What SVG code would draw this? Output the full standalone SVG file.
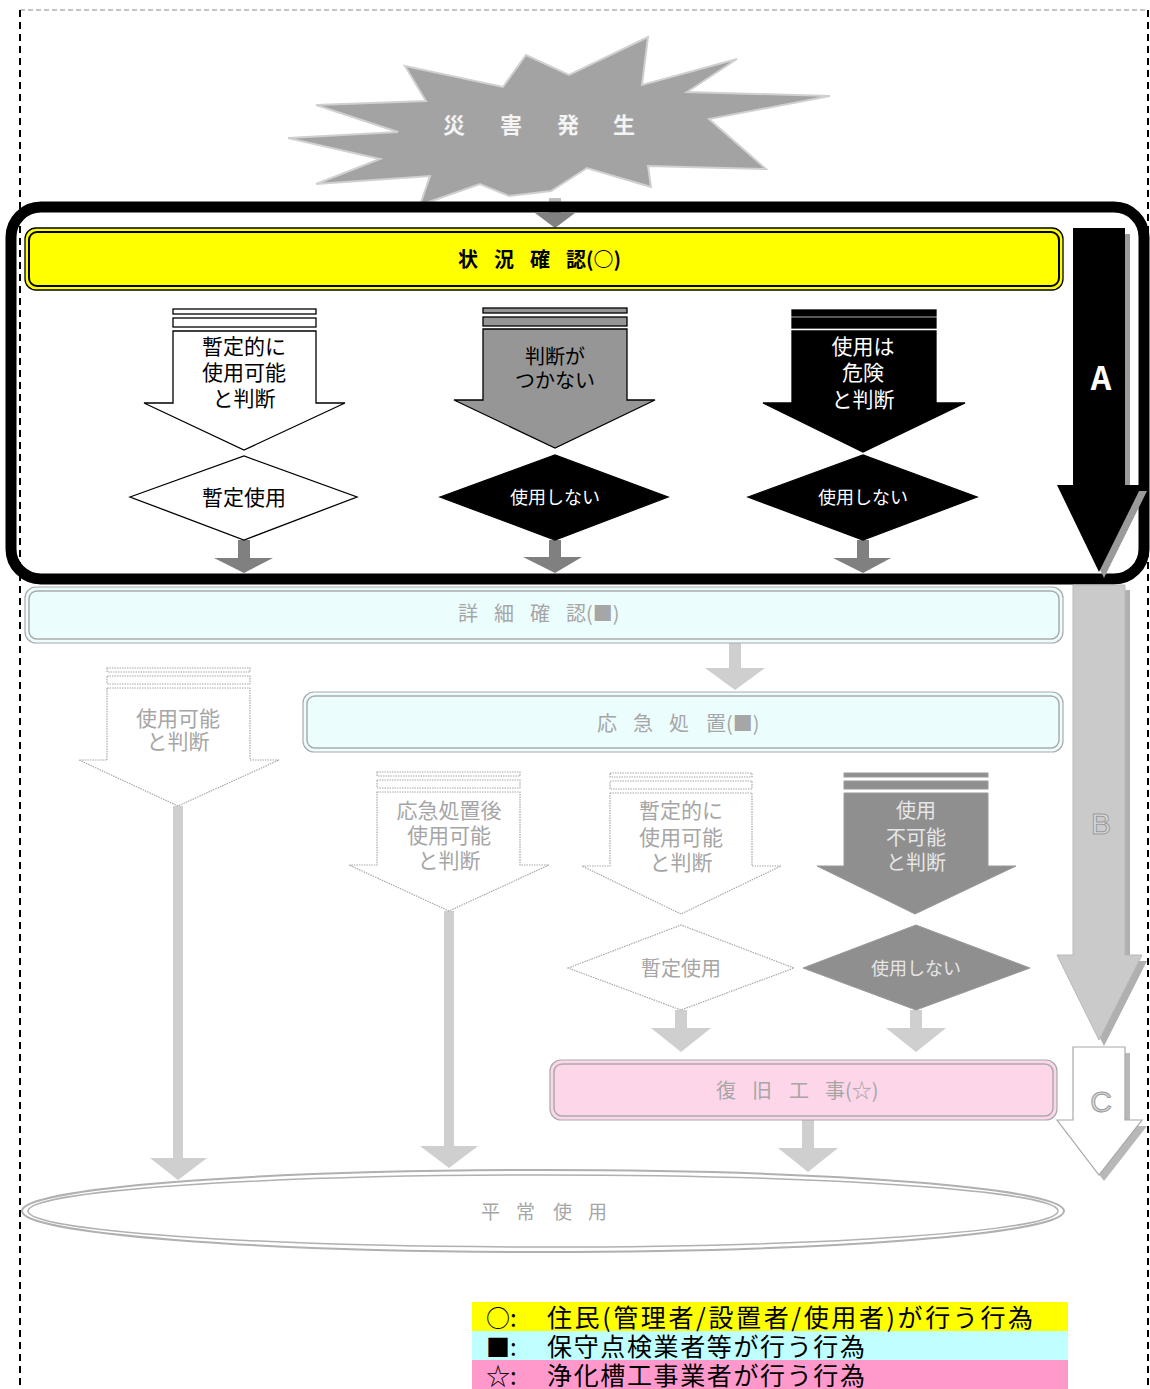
<svg xmlns="http://www.w3.org/2000/svg" width="1150" height="1389" viewBox="0 0 1150 1389">
<style>
.t{font-family:"Noto Sans CJK JP","Noto Sans",sans-serif;}
.w{fill:#fff;stroke:#000;stroke-width:1.3}
.g{fill:#969696;stroke:#000;stroke-width:1.3}
.k{fill:#000;stroke:#000;stroke-width:1.3}
.fw{fill:#fff;stroke:#a8a8a8;stroke-width:1.2;stroke-dasharray:1.5 1}
.fd{fill:#8f8f8f;stroke:#9a9a9a;stroke-width:1}
.ck{fill:#808080}
.cf{fill:#cfcfcf}
.ft{fill:#a6a6a6}
</style>
<rect width="1150" height="1389" fill="#fff"/>
<g id="border">
<line x1="20" y1="10" x2="1148" y2="10" stroke="#888" stroke-width="1" stroke-dasharray="5 3"/>
<line x1="20" y1="10" x2="20" y2="1389" stroke="#000" stroke-width="2" stroke-dasharray="7 5"/>
<line x1="1148" y1="10" x2="1148" y2="1389" stroke="#000" stroke-width="2" stroke-dasharray="7 5"/>
</g>
<g id="disaster">
<polygon points="405,66 503,87 526,55 569,75 648,37 642,85 737,59 687,92 830,96 709,119 766,169 648,166 651,187 587,168 551,191 509,196 480,184 420,205 430,176 316,184 380,159 288,138 398,132 316,105 426,101" fill="#a3a3a3" stroke="#d0d0d0" stroke-width="2"/>
<text class="t" x="443 500 557 613" y="133" font-size="22" font-weight="bold" fill="#f4f4f4">災害発生</text>
</g>
<g id="connectors">
<rect x="549" y="198" width="12" height="16" fill="#c0c0c0"/>
<polygon points="535,213 575,213 555,228" class="ck"/>
<rect x="238" y="540" width="12" height="19" class="ck"/>
<polygon points="214,558 273,558 244,573" class="ck"/>
<rect x="549" y="540" width="12" height="18" class="ck"/>
<polygon points="523,557 582,557 555,573" class="ck"/>
<rect x="857" y="540" width="12" height="19" class="ck"/>
<polygon points="833,558 891,558 863,573" class="ck"/>
<rect x="729" y="642" width="12" height="27" class="cf"/>
<polygon points="705,668 765,668 735,690" class="cf"/>
<rect x="173" y="806" width="10" height="353" class="cf"/>
<polygon points="150,1158 207,1158 178,1180" class="cf"/>
<rect x="444" y="911" width="10" height="236" class="cf"/>
<polygon points="420,1146 478,1146 449,1168" class="cf"/>
<rect x="675" y="1010" width="12" height="19" class="cf"/>
<polygon points="651,1028 711,1028 681,1052" class="cf"/>
<rect x="910" y="1010" width="12" height="19" class="cf"/>
<polygon points="886,1028 946,1028 916,1052" class="cf"/>
<rect x="802" y="1120" width="12" height="29" class="cf"/>
<polygon points="778,1148 838,1148 808,1172" class="cf"/>
</g>
<g id="frame-a">
<rect x="11" y="207" width="1133" height="372" rx="30" fill="none" stroke="#000" stroke-width="11"/>
</g>
<g id="status-check">
<rect x="25" y="228" width="1038" height="62" rx="11" fill="#ffff00" stroke="#000" stroke-width="1.3"/>
<rect x="29" y="232" width="1030" height="54" rx="8" fill="#ffff00" stroke="#000" stroke-width="2"/>
<text class="t" x="458 494 530 566" y="267" font-size="20" font-weight="bold" fill="#000">状況確認(○)</text>
</g>
<g id="judge-temp">
<rect x="173" y="309" width="143" height="5" class="w"/>
<rect x="173" y="318" width="143" height="9" class="w"/>
<polygon points="173,331 316,331 316,403 345,403 244,450 144,403 173,403" class="w"/>
<text class="t" x="244" y="354" font-size="21" text-anchor="middle" fill="#000">暫定的に</text>
<text class="t" x="244" y="380" font-size="21" text-anchor="middle" fill="#000">使用可能</text>
<text class="t" x="244" y="406" font-size="21" text-anchor="middle" fill="#000">と判断</text>
</g>
<g id="temp-use">
<polygon points="130,497 244,456 357,497 244,540" class="w"/>
<text class="t" x="244" y="505" font-size="21" text-anchor="middle" fill="#000">暫定使用</text>
</g>
<g id="judge-unknown">
<rect x="483" y="308" width="144" height="5" class="g"/>
<rect x="483" y="317" width="144" height="9" class="g"/>
<polygon points="483,329 627,329 627,400 655,400 555,448 454,400 483,400" class="g"/>
<text class="t" x="555" y="364" font-size="20" text-anchor="middle" fill="#000">判断が</text>
<text class="t" x="555" y="388" font-size="20" text-anchor="middle" fill="#000">つかない</text>
</g>
<g id="no-use-1">
<polygon points="440,497 555,455 668,497 555,540" class="k"/>
<text class="t" x="555" y="504" font-size="18" text-anchor="middle" fill="#fff">使用しない</text>
</g>
<g id="judge-danger">
<rect x="792" y="310" width="144" height="6" class="k"/>
<rect x="792" y="318" width="144" height="10" class="k"/>
<polygon points="792,331 936,331 936,403 965,403 863,452 763,403 792,403" class="k"/>
<text class="t" x="863" y="354" font-size="21" text-anchor="middle" fill="#fff">使用は</text>
<text class="t" x="863" y="380" font-size="21" text-anchor="middle" fill="#fff">危険</text>
<text class="t" x="863" y="407" font-size="21" text-anchor="middle" fill="#fff">と判断</text>
</g>
<g id="no-use-2">
<polygon points="748,497 863,455 977,497 863,540" class="k"/>
<text class="t" x="863" y="504" font-size="18" text-anchor="middle" fill="#fff">使用しない</text>
</g>
<g id="arrow-a">
<polygon points="1078,234 1130,234 1130,491 1147,491 1104,578 1062,491 1078,491" fill="#9a9a9a"/>
<polygon points="1073,228 1125,228 1125,485 1142,485 1099,572 1057,485 1073,485" fill="#000"/>
<text class="t" x="1101" y="390" font-size="32" font-weight="bold" text-anchor="middle" fill="#fff" font-family="Liberation Sans, sans-serif">A</text>
</g>
<g id="arrow-b">
<polygon points="1078,590 1130,590 1130,961 1147,961 1104,1046 1062,961 1078,961" fill="#b0b0b0"/>
<polygon points="1073,585 1125,585 1125,955 1142,955 1099,1040 1057,955 1073,955" fill="#cacaca" stroke="#b8b8b8"/>
<text x="1101" y="834" font-size="30" text-anchor="middle" fill="#ddd" stroke="#9a9a9a" stroke-width="1" font-family="Liberation Sans, sans-serif">B</text>
</g>
<g id="detail-check">
<rect x="25" y="587" width="1038" height="56" rx="11" fill="#ecfdfd" stroke="#aaa" stroke-width="1.2"/>
<rect x="29" y="591" width="1030" height="48" rx="8" fill="#ecfdfd" stroke="#aaa" stroke-width="1.5"/>
<text class="t ft" x="458 494 530 566" y="621" font-size="20">詳細確認(■)</text>
</g>
<g id="emergency">
<rect x="303" y="692" width="760" height="60" rx="11" fill="#ecfdfd" stroke="#aaa" stroke-width="1.2"/>
<rect x="307" y="696" width="752" height="52" rx="8" fill="#ecfdfd" stroke="#aaa" stroke-width="1.5"/>
<text class="t ft" x="597 633 669 706" y="731" font-size="20">応急処置(■)</text>
</g>
<g id="judge-usable">
<rect x="107" y="668" width="143" height="4" class="fw"/>
<rect x="107" y="676" width="143" height="8" class="fw"/>
<polygon points="107,688 250,688 250,760 279,760 178,806 79,760 107,760" class="fw"/>
<text class="t ft" x="178" y="726" font-size="21" text-anchor="middle">使用可能</text>
<text class="t ft" x="178" y="749" font-size="21" text-anchor="middle">と判断</text>
</g>
<g id="judge-after">
<rect x="377" y="772" width="143" height="4" class="fw"/>
<rect x="377" y="780" width="143" height="8" class="fw"/>
<polygon points="377,792 520,792 520,865 549,865 449,911 349,865 377,865" class="fw"/>
<text class="t ft" x="449" y="818" font-size="21" text-anchor="middle">応急処置後</text>
<text class="t ft" x="449" y="843" font-size="21" text-anchor="middle">使用可能</text>
<text class="t ft" x="449" y="868" font-size="21" text-anchor="middle">と判断</text>
</g>
<g id="judge-temp-2">
<rect x="610" y="773" width="142" height="4" class="fw"/>
<rect x="610" y="781" width="142" height="8" class="fw"/>
<polygon points="610,793 752,793 752,866 781,866 681,914 582,866 610,866" class="fw"/>
<text class="t ft" x="681" y="818" font-size="21" text-anchor="middle">暫定的に</text>
<text class="t ft" x="681" y="845" font-size="21" text-anchor="middle">使用可能</text>
<text class="t ft" x="681" y="870" font-size="21" text-anchor="middle">と判断</text>
</g>
<g id="temp-use-2">
<polygon points="568,968 681,925 794,968 681,1010" class="fw"/>
<text class="t ft" x="681" y="976" font-size="20" text-anchor="middle">暫定使用</text>
</g>
<g id="judge-unusable">
<rect x="844" y="773" width="144" height="4" class="fd"/>
<rect x="844" y="781" width="144" height="8" class="fd"/>
<polygon points="844,793 988,793 988,866 1016,866 915,914 817,866 844,866" class="fd"/>
<text class="t" x="916" y="818" font-size="20" text-anchor="middle" fill="#e6e6e6">使用</text>
<text class="t" x="916" y="845" font-size="20" text-anchor="middle" fill="#e6e6e6">不可能</text>
<text class="t" x="916" y="870" font-size="20" text-anchor="middle" fill="#e6e6e6">と判断</text>
</g>
<g id="no-use-3">
<polygon points="803,968 916,925 1030,968 916,1010" class="fd"/>
<text class="t" x="916" y="975" font-size="18" text-anchor="middle" fill="#e6e6e6">使用しない</text>
</g>
<g id="restore">
<rect x="550" y="1060" width="507" height="60" rx="11" fill="#fdd6ea" stroke="#aaa" stroke-width="1.2"/>
<rect x="554" y="1064" width="499" height="52" rx="8" fill="#fdd6ea" stroke="#aaa" stroke-width="1.5"/>
<text class="t ft" x="716 752 789 825" y="1098" font-size="20">復旧工事(☆)</text>
</g>
<g id="arrow-c">
<polygon points="1078,1053 1130,1053 1130,1126 1147,1126 1104,1181 1062,1126 1078,1126" fill="#b8b8b8"/>
<polygon points="1073,1047 1125,1047 1125,1120 1142,1120 1099,1175 1057,1120 1073,1120" fill="#fff" stroke="#a8a8a8" stroke-width="1.2"/>
<text x="1101" y="1112" font-size="30" text-anchor="middle" fill="#d8d8d8" stroke="#9a9a9a" stroke-width="1" font-family="Liberation Sans, sans-serif">C</text>
</g>
<g id="normal-use">
<ellipse cx="543" cy="1211" rx="521" ry="41" fill="#fff" stroke="#b0b0b0" stroke-width="2"/>
<ellipse cx="543" cy="1211" rx="515" ry="36" fill="#fff" stroke="#b0b0b0" stroke-width="1.5"/>
<text class="t ft" x="481 516 553 588" y="1219" font-size="19">平常使用</text>
</g>
<g id="legend">
<rect x="472" y="1302" width="596" height="29" fill="#ffff00"/>
<rect x="472" y="1331" width="596" height="29" fill="#c0ffff"/>
<rect x="472" y="1360" width="596" height="29" fill="#ff99cc"/>
<text class="t" x="486" y="1327" font-size="24" fill="#000">○:</text>
<text class="t" x="547" y="1327" font-size="25" fill="#000" textLength="486" lengthAdjust="spacing">住民(管理者/設置者/使用者)が行う行為</text>
<text class="t" x="486" y="1356" font-size="24" fill="#000">■:</text>
<text class="t" x="547" y="1356" font-size="25" fill="#000" textLength="318" lengthAdjust="spacing">保守点検業者等が行う行為</text>
<text class="t" x="486" y="1385" font-size="24" fill="#000">☆:</text>
<text class="t" x="547" y="1385" font-size="25" fill="#000" textLength="318" lengthAdjust="spacing">浄化槽工事業者が行う行為</text>
</g>
</svg>
